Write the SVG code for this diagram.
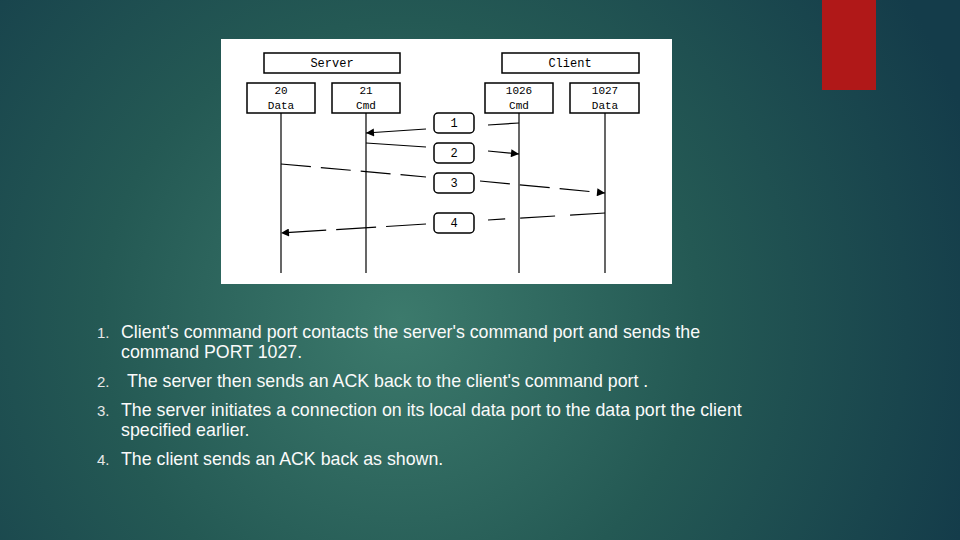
<svg xmlns="http://www.w3.org/2000/svg" width="960" height="540" viewBox="0 0 960 540">
<defs>
<radialGradient id="bg" cx="400" cy="320" r="600" gradientUnits="userSpaceOnUse">
<stop offset="0" stop-color="#3c7a6c"/><stop offset="0.5" stop-color="#245954"/><stop offset="1" stop-color="#143c4a"/>
</radialGradient>
<marker id="ah" viewBox="0 0 10 10" refX="10" refY="5" markerWidth="10" markerHeight="8" orient="auto" markerUnits="userSpaceOnUse"><path d="M0,0L10,5L0,10z" fill="#000"/></marker>
<style>
.b{fill:#fff;stroke:#000;stroke-width:1.5}
.t{font-family:"Liberation Mono",monospace;font-size:12px;text-anchor:middle;fill:#000}
.s{font-family:"Liberation Mono",monospace;font-size:11px;text-anchor:middle;fill:#000}
.l{stroke:#000;stroke-width:1.2;fill:none}
.a{stroke:#000;stroke-width:1.2;fill:none}
.p{font-family:"Liberation Sans",Arial,sans-serif;font-size:17.8px;fill:#fafafa}
.n{font-family:"Liberation Sans",Arial,sans-serif;font-size:15px;fill:#e6e6e6}
</style>
</defs>
<rect width="960" height="540" fill="url(#bg)"/>
<rect x="822" y="0" width="54" height="90" fill="#b01818"/>
<rect x="221" y="39" width="451" height="245" fill="#fff"/>
<g id="server"><rect class="b" x="264" y="53" width="136" height="20"/><text class="t" x="332" y="67">Server</text></g>
<g id="client"><rect class="b" x="502" y="53" width="137" height="20"/><text class="t" x="570" y="67">Client</text></g>
<g id="p20"><rect class="b" x="247" y="83" width="68" height="30"/><text class="s" x="281" y="94">20</text><text class="s" x="281" y="109">Data</text></g>
<g id="p21"><rect class="b" x="332" y="83" width="68" height="30"/><text class="s" x="366" y="94">21</text><text class="s" x="366" y="109">Cmd</text></g>
<g id="p1026"><rect class="b" x="485" y="83" width="68" height="30"/><text class="s" x="519" y="94">1026</text><text class="s" x="519" y="109">Cmd</text></g>
<g id="p1027"><rect class="b" x="570" y="83" width="69" height="30"/><text class="s" x="605" y="94">1027</text><text class="s" x="605" y="109">Data</text></g>
<g id="connectors">
<line class="l" x1="281" y1="113" x2="281" y2="273"/>
<line class="l" x1="366" y1="113" x2="366" y2="273"/>
<line class="l" x1="519" y1="113" x2="519" y2="273"/>
<line class="l" x1="605" y1="113" x2="605" y2="273" stroke-width="2"/>
<line class="a" x1="519" y1="123" x2="488" y2="125"/>
<line class="a" x1="426" y1="129" x2="366" y2="133" marker-end="url(#ah)"/>
<line class="a" x1="366" y1="143" x2="426" y2="147"/>
<line class="a" x1="488" y1="151" x2="519" y2="154" marker-end="url(#ah)"/>
<line class="a" x1="281" y1="164" x2="426" y2="177" stroke-dasharray="30,10"/>
<line class="a" x1="480" y1="181" x2="605" y2="193" marker-end="url(#ah)" stroke-dasharray="30,10"/>
<line class="a" x1="605" y1="213" x2="488" y2="220" stroke-dasharray="35,15"/>
<line class="a" x1="426" y1="224" x2="281" y2="233" marker-end="url(#ah)" stroke-dasharray="40,10"/>
</g>
<g id="m1"><rect class="b" x="434" y="113" width="40" height="20" rx="4"/><text class="t" x="454" y="127">1</text></g>
<g id="m2"><rect class="b" x="434" y="143" width="40" height="20" rx="4"/><text class="t" x="454" y="157">2</text></g>
<g id="m3"><rect class="b" x="434" y="173" width="40" height="20" rx="4"/><text class="t" x="454" y="187">3</text></g>
<g id="m4"><rect class="b" x="434" y="213" width="40" height="20" rx="4"/><text class="t" x="454" y="227">4</text></g>
<g id="list">
<text class="n" x="97" y="338">1.</text><text class="p" x="121" y="338">Client's command port contacts the server's command port and sends the</text>
<text class="p" x="121" y="358">command PORT 1027.</text>
<text class="n" x="97" y="387">2.</text><text class="p" x="127" y="387">The server then sends an ACK back to the client's command port .</text>
<text class="n" x="97" y="416">3.</text><text class="p" x="121" y="416">The server initiates a connection on its local data port to the data port the client</text>
<text class="p" x="121" y="436">specified earlier.</text>
<text class="n" x="97" y="465">4.</text><text class="p" x="121" y="465">The client sends an ACK back as shown.</text>
</g>
</svg>
